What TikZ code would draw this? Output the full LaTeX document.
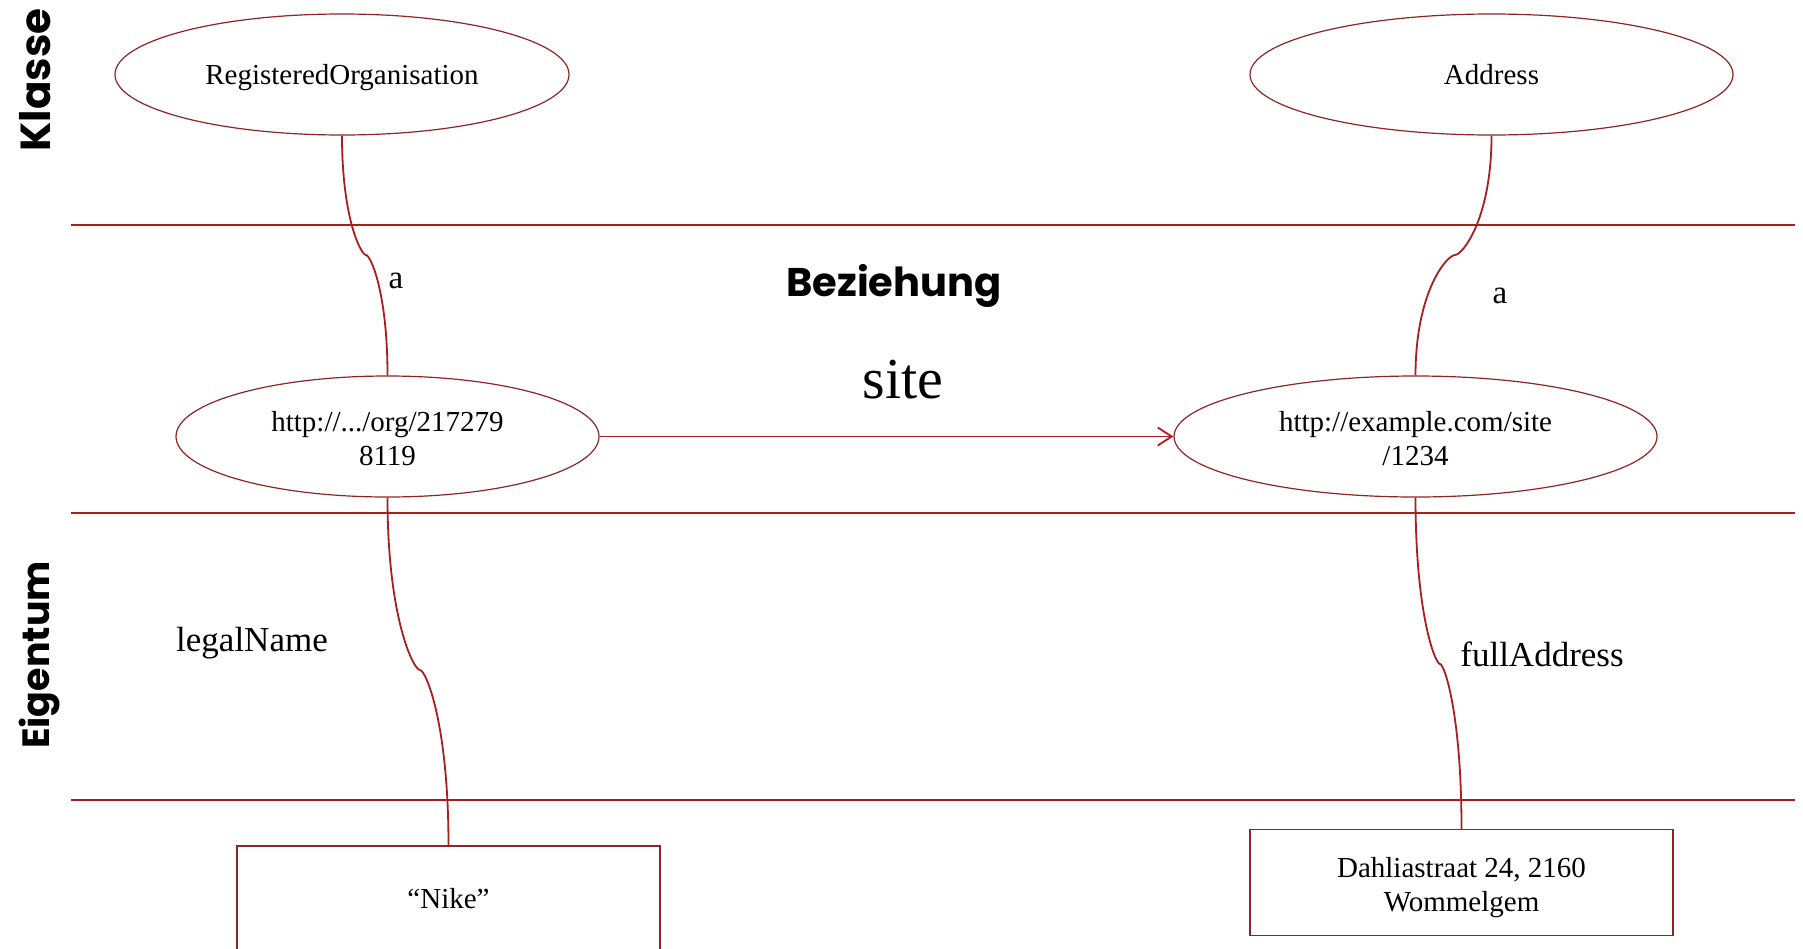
\documentclass[tikz,border=0pt]{standalone}
\usepackage{fontspec}
\setmainfont{Liberation Serif}
\newfontfamily\handfont{Poppins}
\usetikzlibrary{calc,arrows.meta,shapes.geometric}
\definecolor{lanered}{HTML}{A81E1E}
\definecolor{shapered}{HTML}{8E2424}
\tikzset{
  classnode/.style={ellipse,draw=shapered,line width=0.6pt,inner sep=0pt,font=\fontsize{14.5}{17}\selectfont,align=center},
  litnode/.style={rectangle,draw=shapered,line width=0.6pt,inner sep=0pt,minimum width=211.5pt,minimum height=53pt,font=\fontsize{14.5}{17}\selectfont,align=center},
  lane/.style={draw=lanered,line width=1.1pt},
  link/.style={draw=lanered,line width=0.9pt},
  lbl/.style={font=\fontsize{16.5}{19}\selectfont,inner sep=0pt},
  title/.style={font=\handfont\bfseries\fontsize{21}{24}\selectfont,inner sep=0pt}
}
\newcommand\bracelink[3]{%
  \draw[link] (#1) .. controls ($(#1)!0.7!(#1|-#2)$) and ($(#2)!0.2!(#1|-#2)$) .. (#2)
     .. controls ($(#2)!0.2!(#2-|#3)$) and ($(#3)!0.7!(#3|-#2)$) .. (#3);}
\begin{document}
\begin{tikzpicture}[x=0.5pt,y=-0.5pt]
\useasboundingbox (0,0) rectangle (1803,948);
% lanes
\draw[lane] (71,225) -- (1795,225);
\draw[lane] (71,513) -- (1795,513);
\draw[lane] (71,800) -- (1795,800);
% nodes
\node[classnode,minimum width=227pt,minimum height=60.5pt,text height=13.4pt,text depth=3.5pt] (ro) at (342,74.5) {RegisteredOrganisation};
\node[classnode,minimum width=241.5pt,minimum height=60.5pt,text height=13.4pt,text depth=3.5pt] (addr) at (1491.5,74.5) {Address};
\node[classnode,minimum width=211.5pt,minimum height=60.5pt] (org) at (387.5,436.5) {\rule{0pt}{12.5pt}http://.../org/217279\\8119};
\node[classnode,minimum width=241.5pt,minimum height=60.5pt] (site) at (1415.5,436.5) {\rule{0pt}{12.5pt}http://example.com/site\\/1234};
\node[litnode] (nike) at (448.5,899) {“Nike”};
\node[litnode] (dahlia) at (1461.5,882.5) {\rule{0pt}{15pt}Dahliastraat 24, 2160\\Wommelgem};
% kinks
\coordinate (k1) at (366,255);
\coordinate (k2) at (1455,255);
\coordinate (k3) at (420,670);
\coordinate (k4) at (1440,664);
% connectors
\bracelink{ro.south}{k1}{org.north}
\bracelink{addr.south}{k2}{site.north}
\bracelink{org.south}{k3}{nike.north}
\bracelink{site.south}{k4}{dahlia.north}
\draw[link,-{Straight Barb[length=7pt,width=9pt]}] (org.east) -- (site.west);
% labels
\node[lbl] (la1) at (396,280.5) {a};
\node[lbl] (la2) at (1500,295.5) {a};
\node[lbl,font=\fontsize{29}{34}\selectfont] (lsite) at (903,380) {site};
\node[lbl,font=\fontsize{17.5}{20}\selectfont] (lleg) at (252,643.5) {legalName};
\node[lbl,font=\fontsize{17.5}{20}\selectfont] (lfull) at (1542,654) {fullAddress};
% titles
\node[title,font=\handfont\bfseries\fontsize{20}{24}\selectfont] (tbez) at (894,286) {Beziehung};
\node[title,rotate=90] (tkla) at (35,80) {Klasse};
\node[title,rotate=90,font=\handfont\bfseries\fontsize{19}{24}\selectfont] (teig) at (40,655) {Eigentum};
\end{tikzpicture}
\end{document}
